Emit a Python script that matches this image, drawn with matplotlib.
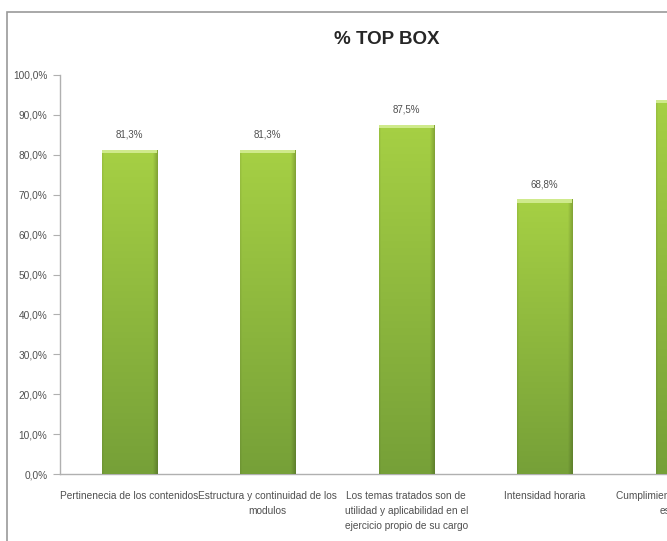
import numpy as np
import matplotlib
matplotlib.use("Agg")
import matplotlib.pyplot as plt
from matplotlib.patches import Rectangle
from matplotlib.colors import to_rgb

plt.rcParams["font.family"] = ["Liberation Sans", "DejaVu Sans"]

categories = [
    "Pertinenecia de los contenidos",
    "Estructura y continuidad de los\nmodulos",
    "Los temas tratados son de\nutilidad y aplicabilidad en el\nejercicio propio de su cargo",
    "Intensidad horaria",
    "Cumplimiento de los objetivos\nesperados",
]
top_box = [81.3, 81.3, 87.5, 68.8, 93.8]
yticks = [0, 10, 20, 30, 40, 50, 60, 70, 80, 90, 100]

W, H = 667, 541
fig = plt.figure(figsize=(W / 100, H / 100), dpi=100)
fig.patch.set_facecolor("white")

# outer chart frame (continues past the right and bottom edges)
fig.patches.append(Rectangle((7 / W, -0.2), 1.2, 1 - 12 / H + 0.2,
                             transform=fig.transFigure, fill=False,
                             edgecolor="#9a9a9a", linewidth=1.2))

# plot area: five category slots of ~138.5 px, wider than the figure
ax = fig.add_axes([60 / W, 1 - 474 / H, 5 * 138.5 / W, (474 - 75) / H])

x = np.arange(len(categories))
bars = ax.bar(x, top_box, width=0.40, color="#8fbc3f", edgecolor="none", zorder=2)

# green gradient fill, lighter at the top, darker towards base and right edge
top_c = np.array(to_rgb("#a6d044"))
bot_c = np.array(to_rgb("#76a038"))
ny, nx = 200, 60
t = np.linspace(0, 1, ny)[:, None]
grad = top_c * (1 - t[..., None]) + bot_c * t[..., None]
grad = np.repeat(grad, nx, axis=1)
shade = np.ones(nx)
shade[-6:] = np.linspace(1.0, 0.80, 6)
shade[:3] = np.linspace(0.93, 1.0, 3)
grad = grad * shade[None, :, None]
for b in bars:
    bx, bw, bh = b.get_x(), b.get_width(), b.get_height()
    img = ax.imshow(grad, extent=(bx, bx + bw, 0, bh), aspect="auto",
                    origin="upper", zorder=3, interpolation="bilinear")
    img.set_clip_path(b)
    ax.add_patch(Rectangle((bx, bh - 0.9), bw, 0.9, facecolor="#cfea8c",
                           edgecolor="none", zorder=4))
    ax.text(bx + bw / 2, bh + 2.6, f"{bh:.1f}%".replace(".", ","),
            ha="center", va="bottom", fontsize=7, color="#505050")
ax.set_xlim(-0.5, 4.5)
ax.set_ylim(0, 100)

ax.set_yticks(yticks)
ax.set_yticklabels([f"{v:.1f}%".replace(".", ",") for v in yticks],
                   fontsize=7.3, color="#505050")
ax.tick_params(axis="y", length=5, color="#b0b0b0", pad=4)
ax.set_xticks(x)
ax.set_xticklabels(categories, fontsize=7.3, color="#505050", linespacing=1.65,
                   va="top")
ax.tick_params(axis="x", length=0, pad=12)

for side in ["top", "right"]:
    ax.spines[side].set_visible(False)
for side in ["left", "bottom"]:
    ax.spines[side].set_color("#b0b0b0")
    ax.spines[side].set_linewidth(1.0)

fig.text(387 / W, 1 - 40 / H, "% TOP BOX", ha="center", va="center",
         fontsize=13.5, fontweight="bold", color="#262626")

fig.savefig("out.png", dpi=100)
